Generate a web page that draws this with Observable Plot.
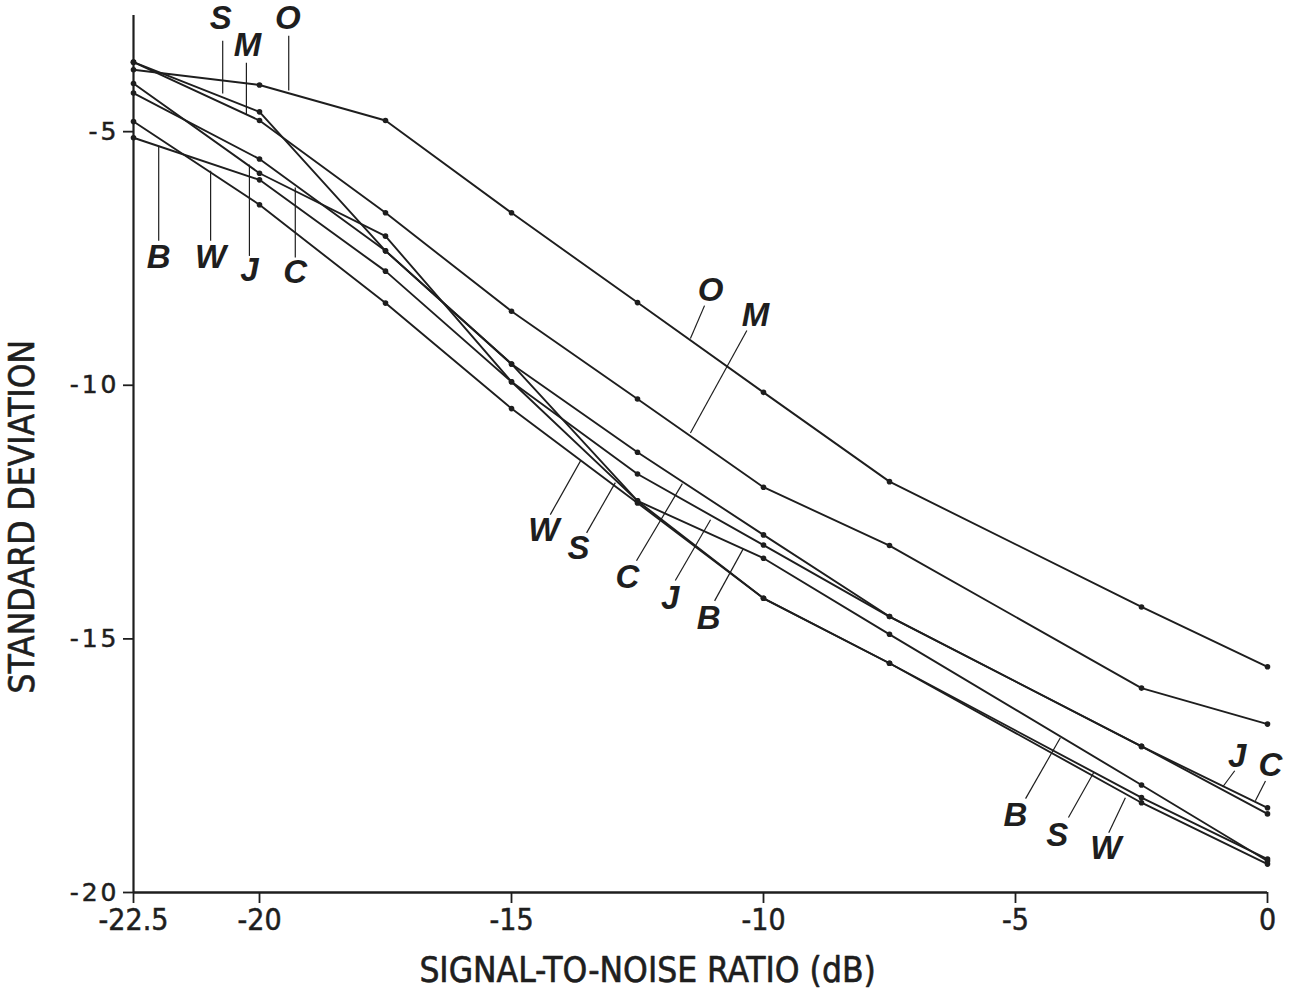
<!DOCTYPE html>
<html><head><meta charset="utf-8">
<script src="https://cdn.jsdelivr.net/npm/d3@7"></script>
<script src="https://cdn.jsdelivr.net/npm/@observablehq/plot@0.6"></script>
<style>
body{margin:0;background:#fff}
svg{display:block}
g[aria-label="y-axis tick label"] text{letter-spacing:3px}
g[aria-label="x-axis tick label"] text, g[aria-label="y-axis tick label"] text{stroke:#1e1e1e;stroke-width:0.5px}
</style>
</head><body><div id="chart"></div>
<script>
// Signal-to-noise ratio (dB) at which each curve was measured
const snr = [-22.5, -20, -17.5, -15, -12.5, -10, -7.5, -2.5, 0];
// Standard deviation per series
const seriesO = [-3.78, -4.08, -4.78, -6.60, -8.37, -10.14, -11.90, -14.37, -15.55];
const seriesM = [-3.63, -4.78, -6.60, -8.54, -10.27, -12.01, -13.16, -15.97, -16.68];
const seriesS = [-3.63, -4.61, -7.35, -9.58, -12.28, -14.20, -15.48, -18.13, -19.34];
const seriesW = [-4.80, -6.44, -8.38, -10.46, -12.32, -14.20, -15.48, -18.23, -19.44];
const seriesB = [-5.12, -5.95, -7.75, -9.93, -12.28, -13.41, -14.91, -17.88, -19.38];
const seriesJ = [-4.05, -5.82, -7.06, -9.93, -11.75, -13.15, -14.56, -17.12, -18.33];
const seriesC = [-4.24, -5.54, -7.35, -9.58, -11.32, -12.95, -14.56, -17.12, -18.45];
const seriesNames = ["O", "M", "S", "W", "B", "J", "C"];
const seriesValues = [seriesO, seriesM, seriesS, seriesW, seriesB, seriesJ, seriesC];

const xTicks = [-22.5, -20, -15, -10, -5, 0];
const yTicks = [-5, -10, -15, -20];
const xTitle = "SIGNAL-TO-NOISE RATIO (dB)";
const yTitle = "STANDARD DEVIATION";

// Curve labels (data coordinates) and their leader lines
const labelText = ["S","M","O","B","W","J","C","O","M","W","S","C","J","B","J","C","B","S","W"];
const labelX = [-20.77,-20.24,-19.44,-22.0,-20.97,-20.2,-19.29,-11.05,-10.16,-14.36,-13.67,-12.70,-11.85,-11.09,-0.60,0.06,-5.0,-4.17,-3.21];
const labelY = [-2.77,-3.30,-2.77,-7.47,-7.47,-7.74,-7.78,-8.14,-8.63,-12.87,-13.22,-13.78,-14.21,-14.60,-17.31,-17.50,-18.49,-18.88,-19.14];
const leadX1 = [-20.73,-20.26,-19.42,-22.0,-20.97,-20.2,-19.29,-11.17,-10.33,-14.23,-13.51,-12.52,-11.75,-10.97,-0.65,-0.04,-4.80,-3.95,-3.15];
const leadY1 = [-3.21,-3.64,-3.11,-7.15,-7.15,-7.45,-7.48,-8.43,-8.92,-12.55,-12.91,-13.46,-13.85,-14.25,-17.60,-17.80,-18.15,-18.52,-18.82];
const leadX2 = [-20.73,-20.26,-19.42,-22.0,-20.97,-20.2,-19.29,-11.45,-11.45,-13.63,-12.94,-11.61,-11.05,-10.40,-0.89,-0.24,-4.11,-3.45,-2.82];
const leadY2 = [-4.25,-4.65,-4.19,-5.28,-5.77,-5.65,-6.10,-9.08,-10.94,-11.49,-11.92,-11.94,-12.65,-13.22,-17.92,-18.19,-16.95,-17.64,-18.13];

const rows = seriesNames.flatMap((name, i) => snr.map((x, j) => ({series: name, x, y: seriesValues[i][j]})));
const labels = labelText.map((t, i) => ({t, x: labelX[i], y: labelY[i]}));
const leaders = labelText.map((t, i) => ({x1: leadX1[i], y1: leadY1[i], x2: leadX2[i], y2: leadY2[i]}));

const ink = "#1e1e1e";
const titleFont = "'DejaVu Sans Condensed', 'Liberation Sans Narrow', sans-serif";

const chart = Plot.plot({
  width: 1295,
  height: 994,
  marginLeft: 133,
  marginRight: 28,
  marginTop: 15,
  marginBottom: 102,
  x: {domain: [-22.5, 0]},
  y: {domain: [-20, -2.71]},
  style: {background: "#fff", color: ink},
  marks: [
    Plot.axisX(xTicks, {tickSize: 11, tickPadding: 5, fontSize: 30, fontFamily: titleFont, tickFormat: d => String(d), label: null, strokeWidth: 1.8}),
    Plot.axisY(yTicks, {tickSize: 10, tickPadding: 4, fontSize: 25, fontFamily: "'DejaVu Sans', sans-serif", tickFormat: d => String(d), label: null, strokeWidth: 1.8}),
    Plot.ruleY([-20], {stroke: ink, strokeWidth: 2.6}),
    Plot.ruleX([-22.5], {stroke: ink, strokeWidth: 2.2}),
    Plot.line(rows, {x: "x", y: "y", z: "series", stroke: ink, strokeWidth: 1.9}),
    Plot.dot(rows, {x: "x", y: "y", r: 2.8, fill: ink}),
    Plot.link(leaders, {x1: "x1", y1: "y1", x2: "x2", y2: "y2", stroke: ink, strokeWidth: 1.2}),
    Plot.text(labels, {x: "x", y: "y", text: "t", fontSize: 33, fontWeight: "bold", fontStyle: "italic", fontFamily: "'Liberation Sans', Arial, sans-serif", fill: ink}),
    Plot.text([xTitle], {x: -12.3, y: -20, dy: 78, text: d => d, fontSize: 35, fontFamily: titleFont, fill: ink, stroke: ink, strokeWidth: 0.6}),
    Plot.text([yTitle], {frameAnchor: "left", textAnchor: "middle", y: -12.59, dx: -111, rotate: -90, text: d => d, fontSize: 35, fontFamily: titleFont, fill: ink, stroke: ink, strokeWidth: 0.6})
  ]
});
document.getElementById("chart").appendChild(chart);
</script>
</body></html>
